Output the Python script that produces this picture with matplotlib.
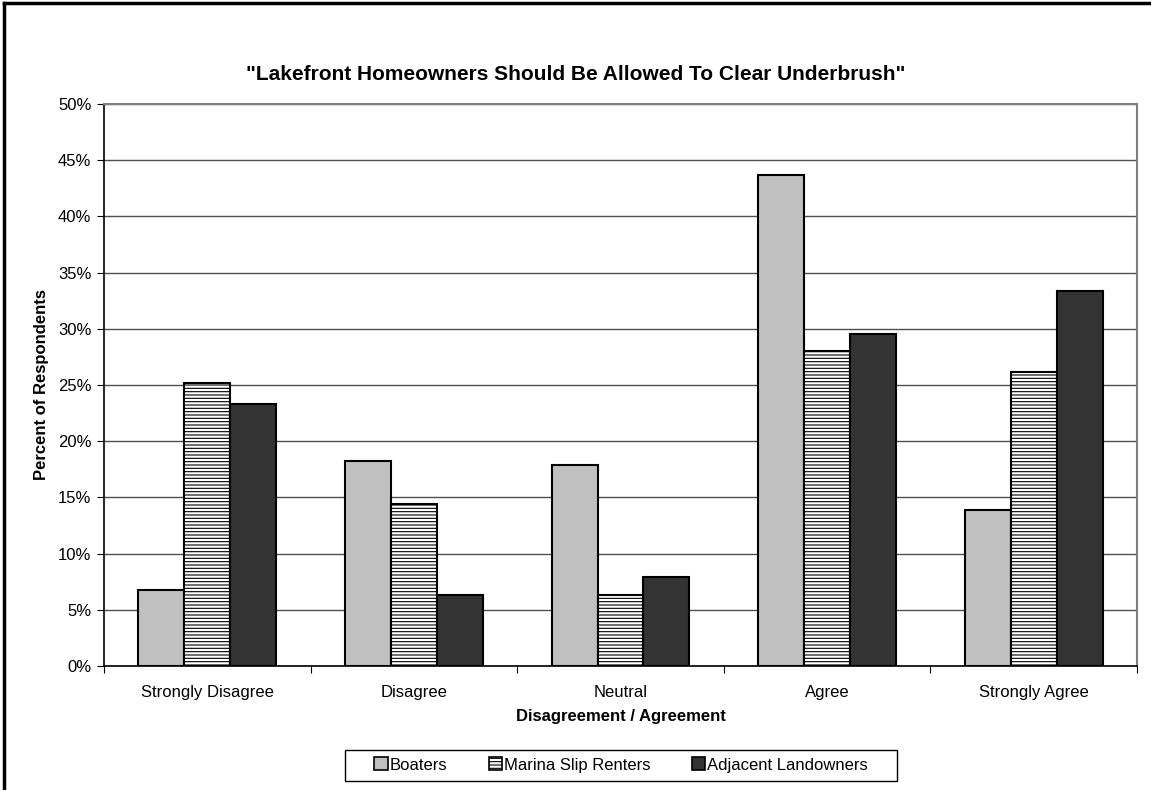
import matplotlib
matplotlib.use("Agg")
import matplotlib.pyplot as plt
import numpy as np
from matplotlib.lines import Line2D
from matplotlib.patches import Rectangle

plt.rcParams['font.family'] = ['Liberation Sans', 'DejaVu Sans']
plt.rcParams['hatch.linewidth'] = 0.8

categories = ["Strongly Disagree", "Disagree", "Neutral", "Agree", "Strongly Agree"]
series_names = ["Boaters", "Marina Slip Renters", "Adjacent Landowners"]
boaters = [6.8, 18.2, 17.9, 43.7, 13.9]
marina = [25.2, 14.4, 6.3, 28.0, 26.2]
adjacent = [23.3, 6.3, 7.9, 29.5, 33.4]
yticks = [0, 5, 10, 15, 20, 25, 30, 35, 40, 45, 50]

W, H = 1151, 790
fig = plt.figure(figsize=(W / 100, H / 100), dpi=100)
ax = fig.add_axes([104 / W, 1 - 666 / H, (1137 - 104) / W, (666 - 104) / H])

x = np.arange(len(categories))
w = 1 / 4.5
styles = [
    dict(facecolor="#C0C0C0", hatch=None),
    dict(facecolor="white", hatch="-----"),
    dict(facecolor="#333333", hatch=None),
]
data = [boaters, marina, adjacent]
for k, (vals, st) in enumerate(zip(data, styles)):
    ax.bar(x + (k - 1) * w, vals, width=w, facecolor=st["facecolor"], hatch=st["hatch"],
           edgecolor="black", linewidth=1.5, zorder=3, label=series_names[k])

ax.set_xlim(-0.5, len(categories) - 0.5)
ax.set_ylim(0, 50)
ax.set_yticks(yticks)
ax.set_yticklabels([f"{t}%" for t in yticks], fontsize=12)
ax.yaxis.grid(True, color="#505050", linewidth=1.0, zorder=0)
ax.set_axisbelow(True)

ax.set_xticks(np.arange(len(categories) + 1) - 0.5)
ax.set_xticklabels([])
ax.set_xticks(x, minor=True)
ax.set_xticklabels(categories, minor=True, fontsize=12)
ax.tick_params(axis="x", which="minor", length=0, pad=14)
ax.tick_params(axis="x", which="major", length=5, direction="out", color="black")
ax.tick_params(axis="y", length=5, direction="out", pad=4)

for s in ["top", "right"]:
    ax.spines[s].set_color("#808080")
    ax.spines[s].set_linewidth(1.5)
for s in ["left", "bottom"]:
    ax.spines[s].set_color("black")
    ax.spines[s].set_linewidth(1.2)

fig.text(576 / W, 1 - 75 / H, '"Lakefront Homeowners Should Be Allowed To Clear Underbrush"',
         ha="center", va="center", fontsize=15, fontweight="bold")
fig.text(42 / W, 1 - 385 / H, "Percent of Respondents", rotation=90, ha="center", va="center",
         fontsize=12, fontweight="bold")
fig.text(621 / W, 1 - 717 / H, "Disagreement / Agreement", ha="center", va="center",
         fontsize=12, fontweight="bold")

leg = fig.legend(loc="center", bbox_to_anchor=(621 / W, 1 - 765 / H), ncol=3, fontsize=12,
                 frameon=False, handlelength=0.8, handleheight=0.8, handletextpad=0.1,
                 columnspacing=2.5, borderpad=0.3)
for p in leg.legend_handles:
    p.set_linewidth(1.2)
fig.add_artist(Rectangle((345 / W, 1 - 781 / H), (897 - 345) / W, 31 / H, transform=fig.transFigure,
                         facecolor="none", edgecolor="black", linewidth=1.0))

fig.add_artist(Line2D([4 / W, 4 / W], [0, 1 - 3 / H], color="black", linewidth=2.5, transform=fig.transFigure))
fig.add_artist(Line2D([4 / W, 1], [1 - 3 / H, 1 - 3 / H], color="black", linewidth=2.5, transform=fig.transFigure))

fig.savefig("out.png", dpi=100)
